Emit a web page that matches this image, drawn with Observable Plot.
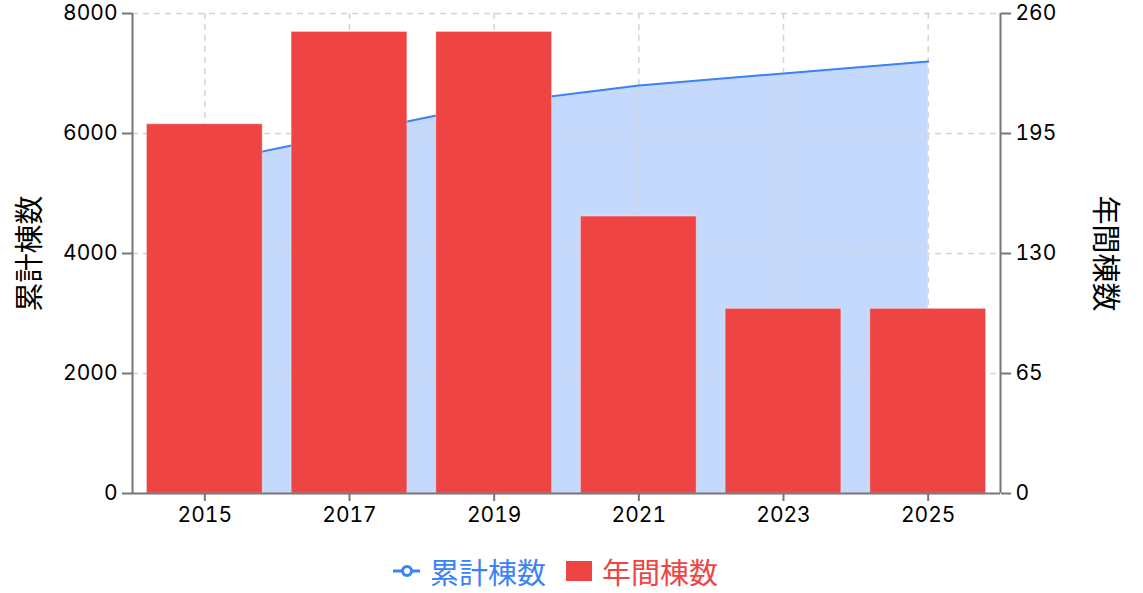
<!DOCTYPE html>
<html><head><meta charset="utf-8">
<script src="https://cdn.jsdelivr.net/npm/d3@7"></script>
<script src="https://cdn.jsdelivr.net/npm/@observablehq/plot@0.6"></script>
<style>
body{margin:0;background:#fff;}
#wrap{position:relative;width:1143px;height:593px;overflow:hidden;}
#legend{position:absolute;left:393px;top:553px;display:flex;align-items:center;font-family:"Noto Sans CJK JP",sans-serif;font-size:29px;line-height:36px;white-space:nowrap;}
#legend .item{display:flex;align-items:center;}
</style></head><body><div id="wrap"><div id="chart"></div><div id="legend"></div></div>
<script>
const years = [2015, 2017, 2019, 2021, 2023, 2025];
const cumulative = [5500, 6000, 6500, 6800, 7000, 7200];
const annual = [200, 250, 250, 150, 100, 100];
const leftTicks = [0, 2000, 4000, 6000, 8000];
const rightTicks = [0, 65, 130, 195, 260];
const seriesNames = ["累計棟数", "年間棟数"];
const blue = "#3b82f6", red = "#ef4444";

const k = 8000 / 260;
const data = years.map((y, i) => ({year: y, cum: cumulative[i], ann: annual[i]}));
const axisColor = "#777";
const gridStyle = {stroke: "#d4d4d4", strokeOpacity: 1, strokeDasharray: "6,5", strokeWidth: 1.5};
const tickFont = {fontFamily: "Inter, 'Liberation Sans', sans-serif", fontSize: 21};

const plot = Plot.plot({
  width: 1143, height: 540,
  marginLeft: 132, marginRight: 143, marginTop: 13, marginBottom: 47,
  style: {fontFamily: "Inter, 'Liberation Sans', sans-serif", fontSize: "21px", color: "#000", background: "#fff"},
  x: {domain: [2014, 2026], label: null},
  y: {domain: [0, 8000], label: null},
  marks: [
    Plot.areaY(data, {x: "year", y: "cum", fill: blue, fillOpacity: 0.3}),
    Plot.gridX({ticks: years, ...gridStyle}),
    Plot.gridY({ticks: leftTicks.slice(1), ...gridStyle}),
    Plot.lineY(data, {x: "year", y: "cum", stroke: blue, strokeWidth: 2}),
    Plot.rectY(data, {x1: d => d.year - 0.8, x2: d => d.year + 0.8, y1: 0, y2: d => d.ann * k, fill: red, stroke: "#fff", strokeOpacity: 0.35, strokeWidth: 1}),
    Plot.ruleX([2014], {stroke: axisColor, strokeWidth: 2}),
    Plot.ruleX([2026], {stroke: axisColor, strokeWidth: 2}),
    Plot.ruleY([0], {stroke: axisColor, strokeWidth: 2}),
    Plot.axisY({ticks: leftTicks, tickFormat: d3.format("d"), tickSize: 10, tickPadding: 5, label: null, stroke: axisColor, strokeWidth: 2, ...tickFont}),
    Plot.axisY({anchor: "right", ticks: rightTicks.map(v => v * k), tickFormat: d => String(Math.round(d / k)), tickSize: 10, tickPadding: 5, label: null, stroke: axisColor, strokeWidth: 2, ...tickFont}),
    Plot.axisX({ticks: years, tickFormat: d3.format("d"), tickSize: 8, tickPadding: 6, label: null, stroke: axisColor, strokeWidth: 2, ...tickFont}),
    Plot.text([seriesNames[0]], {frameAnchor: "left", dx: -102, rotate: -90, textAnchor: "middle", lineAnchor: "middle", text: d => d, fontFamily: "Noto Sans CJK JP", fontSize: 29, fill: "#000"}),
    Plot.text([seriesNames[1]], {frameAnchor: "right", dx: 104, rotate: 90, textAnchor: "middle", lineAnchor: "middle", text: d => d, fontFamily: "Noto Sans CJK JP", fontSize: 29, fill: "#000"})
  ]
});
document.getElementById("chart").appendChild(plot);

const legend = document.getElementById("legend");
legend.innerHTML =
  `<div class="item"><svg width="27" height="14" style="margin-right:10px"><line x1="0" y1="7" x2="27" y2="7" stroke="${blue}" stroke-width="3"/><circle cx="14" cy="7" r="4.5" fill="#fff" stroke="${blue}" stroke-width="3"/></svg><span style="color:${blue}">${seriesNames[0]}</span></div>` +
  `<div class="item" style="margin-left:20px"><svg width="26" height="20" style="margin-right:10px"><rect width="26" height="20" fill="${red}"/></svg><span style="color:${red}">${seriesNames[1]}</span></div>`;
</script></body></html>
